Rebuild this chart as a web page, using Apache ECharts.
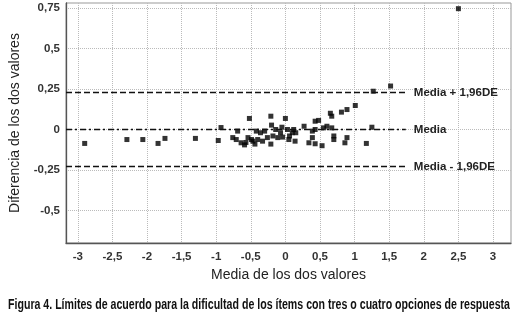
<!DOCTYPE html>
<html><head><meta charset="utf-8">
<script src="https://cdn.jsdelivr.net/npm/echarts@6/dist/echarts.min.js"></script>
<style>html,body{margin:0;padding:0;background:#fff}#c{width:521px;height:321px}</style>
</head><body><div id="c"></div>
<script>
const xTicks = [-3,-2.5,-2,-1.5,-1,-0.5,0,0.5,1,1.5,2,2.5,3];
const yTicks = [-0.5,-0.25,0,0.25,0.5,0.75];
const points = [
[-2.90,-0.086],[-2.29,-0.062],[-2.06,-0.062],[-1.84,-0.086],[-1.74,-0.055],[-1.30,-0.055],[-0.97,-0.068],[-0.93,0.012],
[-0.76,-0.050],[-0.71,-0.062],[-0.69,-0.010],[-0.64,-0.082],[-0.59,-0.095],[-0.57,-0.080],[-0.54,-0.050],[-0.52,0.068],
[-0.49,-0.062],[-0.47,-0.072],[-0.44,-0.090],[-0.42,-0.010],[-0.40,-0.062],[-0.36,-0.020],[-0.33,-0.072],[-0.30,-0.010],
[-0.26,-0.050],[-0.21,0.082],[-0.21,-0.090],[-0.20,0.027],[-0.18,-0.040],[-0.14,0.000],[-0.11,-0.050],[-0.07,-0.020],
[-0.05,0.014],[-0.04,-0.047],[0.00,0.068],[0.03,0.000],[0.05,-0.062],[0.06,-0.040],
[0.10,-0.020],[0.12,0.000],[0.14,-0.072],[0.15,-0.020],[0.27,0.020],[0.34,-0.082],[0.39,-0.010],[0.39,-0.050],
[0.43,0.051],[0.43,0.000],[0.43,-0.088],[0.48,0.056],[0.53,-0.100],[0.55,0.010],[0.60,0.020],[0.65,0.100],
[0.67,0.082],[0.67,0.010],[0.70,-0.062],[0.70,-0.040],[0.81,0.107],[0.89,0.123],[0.89,-0.050],[0.86,-0.082],
[1.01,0.148],[1.17,-0.086],[1.25,0.014],[1.27,0.236],[1.52,0.268],[2.50,0.745]
];
const meanDiff = 0.0;
const upperLimit = 0.228;
const lowerLimit = -0.228;
const refLabels = ['Media + 1,96DE','Media','Media - 1,96DE'];
const caption = 'Figura 4. Límites de acuerdo para la dificultad de los ítems con tres o cuatro opciones de respuesta';
const xMin = -3.17, xMax = 3.26, yMin = -0.70, yMax = 0.78, refEnd = 1.74;

const fmt = v => String(v).replace('.', ',');
const capFont = 'bold 14px "Liberation Sans", Arial, sans-serif';
const mctx = document.createElement('canvas').getContext('2d');
mctx.font = capFont;
const capW = mctx.measureText(caption).width;
const capTarget = 502;
const capScale = capTarget / capW;

const chart = echarts.init(document.getElementById('c'), null, {renderer:'canvas'});
const lbl = {fontFamily:'Liberation Sans, Arial, sans-serif', fontWeight:'bold', fontSize:11.5, color:'#333'};
function ref(y, text, dash){
  return [{coord:[xMin,y], lineStyle:{type:dash, color:'#111', width:1.3},
    label:{show:true, position:'end', formatter:text, distance:8, color:'#222', fontFamily:'Liberation Sans, Arial, sans-serif', fontWeight:'bold', fontSize:11.5}},
    {coord:[refEnd,y]}];
}
chart.setOption({
  animation:false,
  grid:{left:61, top:3, right:10, bottom:78, show:true, borderColor:'#999', borderWidth:1},
  xAxis:{type:'value', min:xMin, max:xMax,
    name:'Media de los dos valores', nameLocation:'middle', nameGap:22,
    nameTextStyle:{fontFamily:'Liberation Sans, Arial, sans-serif', fontSize:14, color:'#222'},
    axisLine:{show:true, onZero:false, lineStyle:{color:'#555', width:1.3}},
    axisTick:{show:false, customValues:xTicks},
    axisLabel:Object.assign({customValues:xTicks, formatter:fmt, margin:8}, lbl),
    splitLine:{show:true, lineStyle:{type:'dotted', color:'#bbb', width:1}}},
  yAxis:{type:'value', min:yMin, max:yMax,
    name:'Diferencia de los dos valores', nameLocation:'middle', nameGap:44,
    nameTextStyle:{fontFamily:'Liberation Sans, Arial, sans-serif', fontSize:14, color:'#222'},
    axisLine:{show:true, onZero:false, lineStyle:{color:'#555', width:1.3}},
    axisTick:{show:false, customValues:yTicks},
    axisLabel:Object.assign({customValues:yTicks, formatter:fmt, margin:6}, lbl),
    splitLine:{show:true, lineStyle:{type:'dotted', color:'#bbb', width:1}}},
  graphic:[{type:'text', x:8, y:298, scaleX:capScale, originX:0,
    style:{text:caption, font:capFont, fill:'#111'}}],
  series:[{type:'scatter', symbol:'rect', symbolSize:5, data:points, itemStyle:{color:'#000'},
    markLine:{silent:true, symbol:'none', animation:false,
      data:[ref(upperLimit, refLabels[0], [6,3]), ref(meanDiff, refLabels[1], [6,3,2,3]), ref(lowerLimit, refLabels[2], [6,3])]}}]
});
</script></body></html>
